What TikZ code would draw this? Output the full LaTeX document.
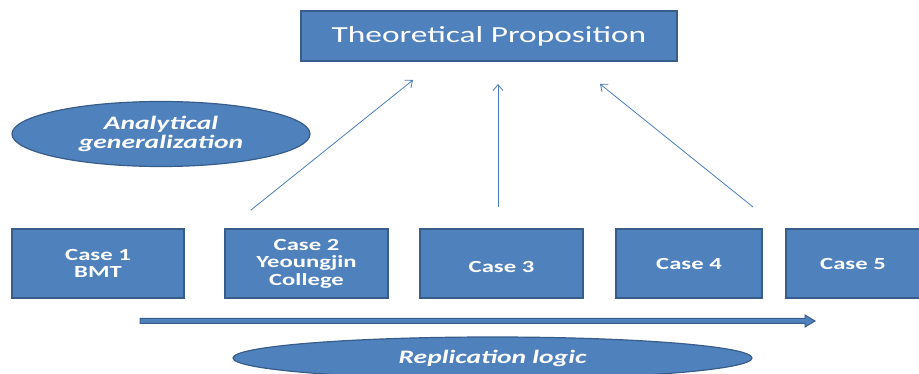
\documentclass[tikz,border=0pt]{standalone}
\usepackage{fontspec}
\setmainfont{Carlito}[FakeStretch=1.45]
\usetikzlibrary{shapes.geometric,arrows.meta}
\definecolor{boxblue}{HTML}{4F81BD}
\definecolor{edgeblue}{HTML}{385D8A}
\definecolor{lineblue}{HTML}{4A7EBB}

\begin{document}
\begin{tikzpicture}[x=1pt, y=-1pt,
	casebox/.style={rectangle, fill=boxblue, draw=edgeblue, line width=1.5pt,
		minimum height=69pt, inner sep=0pt, text=white, align=center,
		font=\fontsize{17}{17.5}\selectfont\bfseries},
	tag/.style={ellipse, fill=boxblue, draw=edgeblue, line width=1.2pt,
		inner sep=0pt, text=white, align=center,
		font=\fontsize{19}{19}\selectfont\bfseries\itshape},
	pointer/.style={lineblue, line width=0.8pt,
		-{Straight Barb[length=6pt,width=10pt]}}]
	\useasboundingbox (0,0) rectangle (919,374);
	\node[casebox, minimum width=376pt, minimum height=50pt,
		font=\fontsize{23}{26}\selectfont] (theory) at (489,36) {Theoretical Proposition};
	\node[tag, minimum width=298pt, minimum height=65pt] (analytic)
		at (161,134) {Analytical\\generalization};
	% the cases
	\node[casebox, minimum width=172pt] (case1) at (98,263.5) {Case 1\\BMT};
	\node[casebox, minimum width=163pt] (case2) at (306.5,263.5) {Case 2\\Yeoungjin\\College};
	\node[casebox, minimum width=163pt, text height=19pt] (case3) at (501.5,263.5) {Case 3};
	\node[casebox, minimum width=146pt, text height=13pt] (case4) at (689,263.5) {Case 4};
	\node[casebox, minimum width=134pt, text height=13pt] (case5) at (853,263.5) {Case 5};
	% arrows up to the proposition
	\coordinate (from1) at (251,210);
	\coordinate (to1) at (413,80);
	\coordinate (from2) at (498,207);
	\coordinate (to2) at (498,84);
	\coordinate (from3) at (753,207);
	\coordinate (to3) at (600,84);
	\draw[pointer] (from1) -- (to1);
	\draw[pointer] (from2) -- (to2);
	\draw[pointer] (from3) -- (to3);
	% replication arrow
	\filldraw[fill=boxblue, draw=edgeblue, line width=1pt]
		(140,318.5) -- (805,318.5) -- (805,315) -- (815,321)
		-- (805,327) -- (805,323.5) -- (140,323.5) -- cycle;
	\node[tag, minimum width=519pt, minimum height=42pt] (replic)
		at (492.5,358) {Replication logic};
\end{tikzpicture}
\end{document}
